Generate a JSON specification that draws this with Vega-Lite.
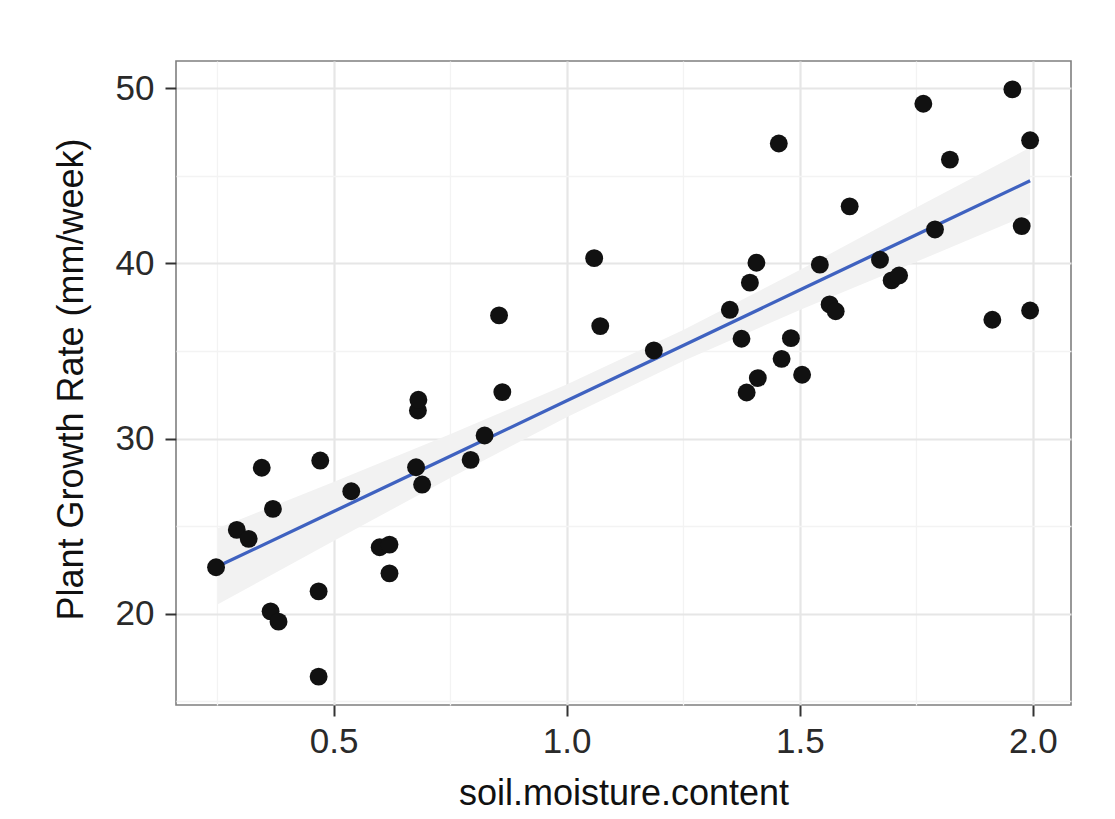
{
  "$schema": "https://vega.github.io/schema/vega-lite/v6.json",
  "width": 895,
  "height": 644,
  "autosize": {"type": "none"},
  "padding": {"left": 176, "top": 61, "right": 44, "bottom": 114},
  "background": "white",
  "datasets": {
    "points": [
      {"moisture": 0.248, "growth": 22.65}, {"moisture": 0.2925, "growth": 24.78}, {"moisture": 0.318, "growth": 24.27},
      {"moisture": 0.346, "growth": 28.33}, {"moisture": 0.370, "growth": 25.98}, {"moisture": 0.365, "growth": 20.13},
      {"moisture": 0.382, "growth": 19.54}, {"moisture": 0.4715, "growth": 28.74}, {"moisture": 0.468, "growth": 21.27},
      {"moisture": 0.468, "growth": 16.4}, {"moisture": 0.538, "growth": 26.99}, {"moisture": 0.599, "growth": 23.79},
      {"moisture": 0.620, "growth": 23.94}, {"moisture": 0.620, "growth": 22.3}, {"moisture": 0.677, "growth": 28.36},
      {"moisture": 0.690, "growth": 27.37}, {"moisture": 0.681, "growth": 31.6}, {"moisture": 0.682, "growth": 32.21},
      {"moisture": 0.794, "growth": 28.78}, {"moisture": 0.824, "growth": 30.17}, {"moisture": 0.855, "growth": 37.03},
      {"moisture": 0.862, "growth": 32.65}, {"moisture": 1.059, "growth": 40.30}, {"moisture": 1.072, "growth": 36.42},
      {"moisture": 1.187, "growth": 35.03}, {"moisture": 1.35, "growth": 37.35}, {"moisture": 1.375, "growth": 35.7},
      {"moisture": 1.386, "growth": 32.63}, {"moisture": 1.393, "growth": 38.9}, {"moisture": 1.407, "growth": 40.04},
      {"moisture": 1.41, "growth": 33.45}, {"moisture": 1.455, "growth": 46.85}, {"moisture": 1.461, "growth": 34.55},
      {"moisture": 1.481, "growth": 35.73}, {"moisture": 1.505, "growth": 33.64}, {"moisture": 1.543, "growth": 39.93},
      {"moisture": 1.564, "growth": 37.66}, {"moisture": 1.577, "growth": 37.27}, {"moisture": 1.607, "growth": 43.26},
      {"moisture": 1.672, "growth": 40.21}, {"moisture": 1.697, "growth": 39.03}, {"moisture": 1.713, "growth": 39.31},
      {"moisture": 1.765, "growth": 49.12}, {"moisture": 1.79, "growth": 41.94}, {"moisture": 1.822, "growth": 45.93},
      {"moisture": 1.913, "growth": 36.78}, {"moisture": 1.956, "growth": 49.94}, {"moisture": 1.976, "growth": 42.13},
      {"moisture": 1.994, "growth": 47.03}, {"moisture": 1.994, "growth": 37.31}
    ],
    "fit": [
      {"moisture": 0.252, "fit": 22.70, "lo": 20.53, "hi": 24.87},
      {"moisture": 0.5, "fit": 25.83, "lo": 24.14, "hi": 27.52},
      {"moisture": 0.75, "fit": 28.99, "lo": 27.75, "hi": 30.24},
      {"moisture": 1.0, "fit": 32.15, "lo": 31.22, "hi": 33.08},
      {"moisture": 1.25, "fit": 35.31, "lo": 34.43, "hi": 36.19},
      {"moisture": 1.5, "fit": 38.48, "lo": 37.34, "hi": 39.62},
      {"moisture": 1.75, "fit": 41.64, "lo": 40.09, "hi": 43.19},
      {"moisture": 1.994, "fit": 44.72, "lo": 42.82, "hi": 46.62}
    ]
  },
  "layer": [
    {
      "data": {"name": "fit"},
      "mark": {"type": "area", "color": "#F2F2F2", "opacity": 1},
      "encoding": {
        "x": {
          "field": "moisture", "type": "quantitative",
          "scale": {"domain": [0.1621, 2.0817], "nice": false, "zero": false},
          "axis": {"orient": "bottom", "values": [0.25, 0.75, 1.25, 1.75], "grid": true, "gridColor": "#F3F3F3", "gridWidth": 1.3,
                   "labels": false, "ticks": false, "domain": false, "title": null}
        },
        "y": {
          "field": "lo", "type": "quantitative",
          "scale": {"domain": [14.78, 51.56], "nice": false, "zero": false},
          "axis": {"orient": "left", "values": [15, 25, 35, 45], "grid": true, "gridColor": "#F3F3F3", "gridWidth": 1.3,
                   "labels": false, "ticks": false, "domain": false, "title": null}
        },
        "y2": {"field": "hi"}
      }
    },
    {
      "data": {"name": "fit"},
      "mark": {"type": "line", "color": "#3F62C0", "strokeWidth": 3.3},
      "encoding": {
        "x": {"field": "moisture", "type": "quantitative", "axis": null},
        "y": {"field": "fit", "type": "quantitative", "axis": null}
      }
    },
    {
      "data": {"name": "points"},
      "mark": {"type": "circle", "size": 320, "color": "#111111", "opacity": 1},
      "encoding": {
        "x": {
          "field": "moisture", "type": "quantitative",
          "axis": {
            "orient": "bottom",
            "values": [0.5, 1.0, 1.5, 2.0], "format": ".1f",
            "grid": true, "gridColor": "#E6E6E6", "gridWidth": 2.2,
            "domain": false, "ticks": true, "tickSize": 11, "tickWidth": 2, "tickColor": "#333333",
            "labelFont": "Liberation Sans", "labelFontSize": 35, "labelColor": "#2A2A2A", "labelPadding": 8,
            "title": "soil.moisture.content", "titleFont": "Liberation Sans", "titleFontSize": 36,
            "titleFontWeight": "normal", "titleColor": "#111111", "titleBaseline": "alphabetic", "titleY": 99
          }
        },
        "y": {
          "field": "growth", "type": "quantitative",
          "axis": {
            "orient": "left",
            "values": [20, 30, 40, 50],
            "grid": true, "gridColor": "#E6E6E6", "gridWidth": 2.2,
            "domain": false, "ticks": true, "tickSize": 11, "tickWidth": 2, "tickColor": "#333333",
            "labelFont": "Liberation Sans", "labelFontSize": 35, "labelColor": "#2A2A2A", "labelPadding": 11,
            "title": "Plant Growth Rate (mm/week)", "titleFont": "Liberation Sans", "titleFontSize": 36,
            "titleFontWeight": "normal", "titleColor": "#111111", "titleAngle": -90,
            "titleBaseline": "alphabetic", "titleAlign": "center", "titleX": -94, "titleY": 318
          }
        }
      }
    }
  ],
  "resolve": {"axis": {"x": "independent", "y": "independent"}},
  "config": {
    "view": {"stroke": "#7F7F7F", "strokeWidth": 1.6, "fill": "white"}
  }
}
